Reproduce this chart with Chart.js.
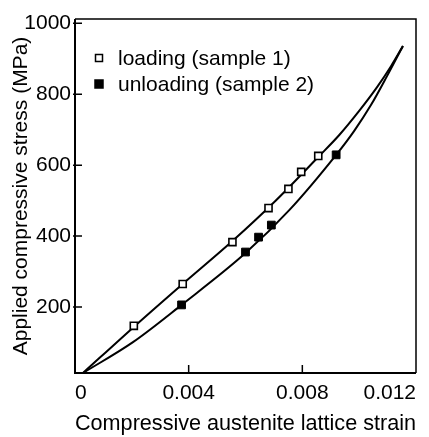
<!DOCTYPE html>
<html>
<head>
<meta charset="utf-8">
<script src="https://cdn.jsdelivr.net/npm/chart.js@4/dist/chart.umd.min.js"></script>
<style>
  html, body { margin: 0; padding: 0; background: #fff; }
  canvas { display: block; }
</style>
</head>
<body>
<canvas id="strainChart" width="429" height="437"></canvas>
<script>
// measured points
const loadStrain = [0.00207, 0.00379, 0.00554, 0.00681, 0.00751, 0.00796, 0.00856];
const loadStress = [147, 265, 383, 479, 533, 581, 626];
const unloadStrain = [0.00375, 0.0060, 0.00646, 0.00691, 0.00919];
const unloadStress = [206, 355, 397, 431, 629];

// fitted curves
const loadFitStrain = [0.00028, 0.00207, 0.00379, 0.00554, 0.00705, 0.00856, 0.0093, 0.0100, 0.01063, 0.01112, 0.01154];
const loadFitStress = [14, 144, 265, 386, 499, 623, 685, 753, 820, 879, 936];
const unloadFitStrain = [0.00028, 0.00204, 0.00375, 0.0060, 0.00754, 0.00919, 0.00982, 0.01042, 0.01098, 0.01154];
const unloadFitStress = [14, 101, 206, 352, 473, 629, 696, 770, 851, 936];

const xTicks = [0, 0.004, 0.008, 0.012];
const yTicks = [200, 400, 600, 800, 1000];

const FONT = "'Liberation Sans', Arial, sans-serif";

function toPoints(xs, ys) {
  return xs.map((x, i) => ({ x: x, y: ys[i] }));
}

// box frame with inward tick marks
const framePlugin = {
  id: "frame",
  afterDraw(chart) {
    const { ctx, chartArea: a, scales } = chart;
    ctx.save();
    ctx.strokeStyle = "#000";
    ctx.lineWidth = 2;
    ctx.beginPath();
    ctx.moveTo(a.left, a.top);
    ctx.lineTo(a.left, a.bottom);
    ctx.lineTo(a.right, a.bottom);
    ctx.stroke();
    ctx.lineWidth = 1.5;
    ctx.beginPath();
    ctx.moveTo(a.left, a.top);
    ctx.lineTo(a.right, a.top);
    ctx.lineTo(a.right, a.bottom);
    ctx.stroke();

    ctx.lineWidth = 1.5;
    ctx.beginPath();
    xTicks.forEach((v) => {
      const px = scales.x.getPixelForValue(v);
      if (px <= a.left + 1 || px >= a.right - 1) return;
      ctx.moveTo(px, a.bottom);
      ctx.lineTo(px, a.bottom - 8);
    });
    yTicks.forEach((v) => {
      const py = scales.y.getPixelForValue(v);
      if (py <= a.top + 1 || py >= a.bottom - 1) return;
      ctx.moveTo(a.left - 2, py);
      ctx.lineTo(a.left + 7, py);
    });
    ctx.stroke();
    ctx.restore();
  },
};

// legend in the upper left of the plot
const keyPlugin = {
  id: "key",
  afterDraw(chart) {
    const { ctx, chartArea: a } = chart;
    const rows = [chart.data.datasets[0], chart.data.datasets[1]];
    ctx.save();
    ctx.font = "21px " + FONT;
    ctx.textBaseline = "middle";
    ctx.fillStyle = "#000";
    rows.forEach((ds, i) => {
      const cx = a.left + 24;
      const cy = a.top + 39 + i * 26;
      const s = i === 0 ? 3.5 : 4;
      ctx.beginPath();
      ctx.rect(cx - s, cy - s, 2 * s, 2 * s);
      ctx.fillStyle = ds.backgroundColor;
      ctx.fill();
      ctx.lineWidth = 1.5;
      ctx.strokeStyle = "#000";
      ctx.stroke();
      ctx.fillStyle = "#000";
      ctx.fillText(ds.label, a.left + 43, cy + 1);
    });
    ctx.restore();
  },
};

new Chart(document.getElementById("strainChart"), {
  type: "scatter",
  data: {
    datasets: [
      {
        label: "loading (sample 1)",
        data: toPoints(loadStrain, loadStress),
        pointStyle: "rect",
        pointRadius: 5,
        pointBorderWidth: 1.6,
        borderColor: "#000",
        backgroundColor: "#fff",
      },
      {
        label: "unloading (sample 2)",
        data: toPoints(unloadStrain, unloadStress),
        pointStyle: "rect",
        pointRadius: 5.5,
        pointBorderWidth: 1,
        borderColor: "#000",
        backgroundColor: "#000",
      },
      {
        label: "loading fit",
        data: toPoints(loadFitStrain, loadFitStress),
        showLine: true,
        pointRadius: 0,
        borderColor: "#000",
        borderWidth: 2,
        cubicInterpolationMode: "monotone",
      },
      {
        label: "unloading fit",
        data: toPoints(unloadFitStrain, unloadFitStress),
        showLine: true,
        pointRadius: 0,
        borderColor: "#000",
        borderWidth: 2,
        cubicInterpolationMode: "monotone",
      },
    ],
  },
  options: {
    responsive: false,
    animation: false,
    layout: { padding: { top: 19, right: 13, left: 0, bottom: 0 } },
    plugins: {
      legend: { display: false },
      tooltip: { enabled: false },
    },
    scales: {
      x: {
        type: "linear",
        min: 0,
        max: 0.012,
        grid: { display: false, drawTicks: false },
        border: { display: false },
        afterBuildTicks: (scale) => {
          scale.ticks = xTicks.map((v) => ({ value: v }));
        },
        afterFit: (scale) => {
          scale.height = 64;
        },
        ticks: {
          align: "inner",
          padding: 8,
          color: "#000",
          font: { family: FONT, size: 21 },
          callback: (v) => (v === 0 ? "0" : v.toFixed(3)),
        },
        title: {
          display: true,
          text: "Compressive austenite lattice strain",
          color: "#000",
          font: { family: FONT, size: 22 },
          padding: { top: 0, bottom: 0 },
        },
      },
      y: {
        type: "linear",
        min: 14,
        max: 1012,
        grid: { display: false, drawTicks: false },
        border: { display: false },
        afterBuildTicks: (scale) => {
          scale.ticks = yTicks.map((v) => ({ value: v }));
        },
        afterFit: (scale) => {
          scale.width = 75;
        },
        ticks: {
          padding: 4,
          color: "#000",
          font: { family: FONT, size: 21 },
          callback: (v) => String(v),
        },
        title: {
          display: true,
          text: "Applied compressive stress (MPa)",
          color: "#000",
          font: { family: FONT, size: 21 },
          padding: { top: 9, bottom: 0 },
        },
      },
    },
  },
  plugins: [framePlugin, keyPlugin],
});
</script>
</body>
</html>
